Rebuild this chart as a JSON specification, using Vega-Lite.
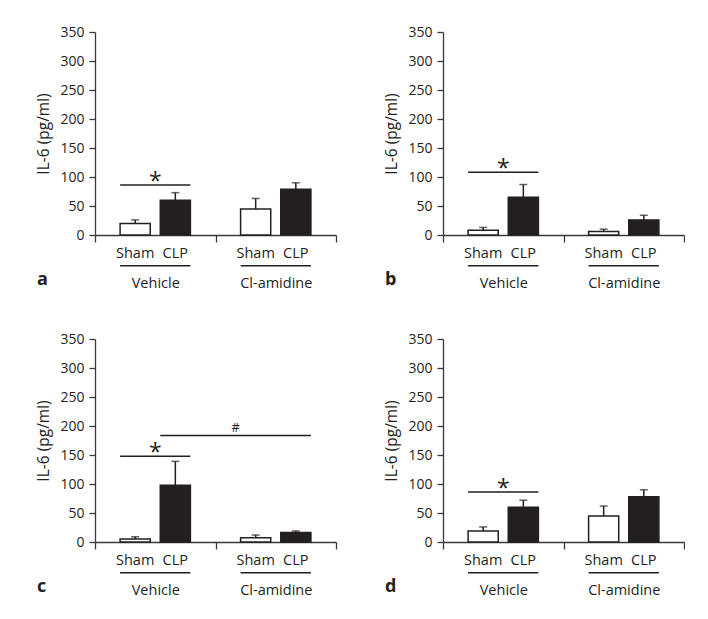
{
  "$schema": "https://vega.github.io/schema/vega-lite/v6.json",
  "background": "white",
  "padding": {"left": 36, "top": 25, "right": 0, "bottom": 0},
  "data": {"values": [
    {"panel": "a", "kind": "bar", "group": "Vehicle", "treatment": "Sham", "mean": 20, "upper": 26},
    {"panel": "a", "kind": "bar", "group": "Vehicle", "treatment": "CLP", "mean": 60, "upper": 73},
    {"panel": "a", "kind": "bar", "group": "Cl-amidine", "treatment": "Sham", "mean": 45, "upper": 63},
    {"panel": "a", "kind": "bar", "group": "Cl-amidine", "treatment": "CLP", "mean": 79, "upper": 90},
    {"panel": "a", "kind": "sig", "g1": "Vehicle", "g2": "Vehicle", "level": 86, "mark": "*"},
    {"panel": "b", "kind": "bar", "group": "Vehicle", "treatment": "Sham", "mean": 8, "upper": 13},
    {"panel": "b", "kind": "bar", "group": "Vehicle", "treatment": "CLP", "mean": 65, "upper": 87},
    {"panel": "b", "kind": "bar", "group": "Cl-amidine", "treatment": "Sham", "mean": 6, "upper": 10},
    {"panel": "b", "kind": "bar", "group": "Cl-amidine", "treatment": "CLP", "mean": 26, "upper": 34},
    {"panel": "b", "kind": "sig", "g1": "Vehicle", "g2": "Vehicle", "level": 108, "mark": "*"},
    {"panel": "c", "kind": "bar", "group": "Vehicle", "treatment": "Sham", "mean": 5, "upper": 9},
    {"panel": "c", "kind": "bar", "group": "Vehicle", "treatment": "CLP", "mean": 98, "upper": 139},
    {"panel": "c", "kind": "bar", "group": "Cl-amidine", "treatment": "Sham", "mean": 7.5, "upper": 12},
    {"panel": "c", "kind": "bar", "group": "Cl-amidine", "treatment": "CLP", "mean": 16.5, "upper": 19},
    {"panel": "c", "kind": "sig", "g1": "Vehicle", "g2": "Vehicle", "level": 148, "mark": "*"},
    {"panel": "c", "kind": "hash", "g1": "Vehicle", "g2": "Cl-amidine", "level": 183.5, "mark": "#"},
    {"panel": "d", "kind": "bar", "group": "Vehicle", "treatment": "Sham", "mean": 19, "upper": 26},
    {"panel": "d", "kind": "bar", "group": "Vehicle", "treatment": "CLP", "mean": 60, "upper": 72},
    {"panel": "d", "kind": "bar", "group": "Cl-amidine", "treatment": "Sham", "mean": 45, "upper": 62},
    {"panel": "d", "kind": "bar", "group": "Cl-amidine", "treatment": "CLP", "mean": 78, "upper": 90},
    {"panel": "d", "kind": "sig", "g1": "Vehicle", "g2": "Vehicle", "level": 86, "mark": "*"}
  ]},
  "vconcat": [
    {"hconcat": [
      {
        "width": 241, "height": 203,
        "title": {"text": "a", "orient": "bottom", "anchor": "start", "frame": "bounds", "baseline": "alphabetic", "offset": -5, "fontSize": 18, "fontWeight": "bold", "color": "#231f20"},
        "transform": [{"filter": "datum.panel === 'a'"}],
        "layer": [
          {"transform": [{"filter": "datum.kind === 'bar'"}], "mark": {"type": "bar", "stroke": "#231f20", "strokeWidth": 1.5},
           "encoding": {
             "x": {"field": "group", "type": "nominal", "sort": ["Vehicle", "Cl-amidine"], "scale": {"domain": ["Vehicle", "Cl-amidine"], "paddingInner": 0, "paddingOuter": 0}},
             "xOffset": {"field": "treatment", "type": "nominal", "sort": ["Sham", "CLP"], "scale": {"domain": ["Sham", "CLP"], "paddingInner": 0.25, "paddingOuter": 0.625}},
             "y": {"field": "mean", "type": "quantitative", "scale": {"domain": [0, 350]}, "axis": {"title": "IL-6 (pg/ml)"}},
             "fill": {"field": "treatment", "type": "nominal", "scale": {"domain": ["Sham", "CLP"], "range": ["#ffffff", "#231f20"]}, "legend": null}
           }},
          {"transform": [{"filter": "datum.kind === 'bar'"}], "mark": {"type": "rule", "color": "#231f20", "strokeWidth": 1.5},
           "encoding": {"x": {"field": "group", "type": "nominal"}, "xOffset": {"field": "treatment", "type": "nominal"}, "y": {"field": "mean", "type": "quantitative"}, "y2": {"field": "upper"}}},
          {"transform": [{"filter": "datum.kind === 'bar'"}], "mark": {"type": "tick", "color": "#231f20", "size": 8, "thickness": 1.5},
           "encoding": {"x": {"field": "group", "type": "nominal"}, "xOffset": {"field": "treatment", "type": "nominal"}, "y": {"field": "upper", "type": "quantitative"}}},
          {"transform": [{"filter": "datum.kind === 'bar'"}], "mark": {"type": "text", "baseline": "alphabetic", "dy": 22.5, "fontSize": 14.5, "color": "#231f20"},
           "encoding": {"x": {"field": "group", "type": "nominal"}, "xOffset": {"field": "treatment", "type": "nominal"}, "y": {"datum": 0, "type": "quantitative"}, "text": {"field": "treatment"}}},
          {"transform": [{"filter": "datum.kind === 'bar' && datum.treatment === 'Sham'"}], "mark": {"type": "rule", "color": "#231f20", "strokeWidth": 1.5, "clip": false},
           "encoding": {"x": {"field": "group", "type": "nominal", "bandPosition": 0.2083}, "x2": {"field": "group", "bandPosition": 0.7917}, "y": {"datum": -53, "type": "quantitative"}}},
          {"transform": [{"filter": "datum.kind === 'sig'"}], "mark": {"type": "rule", "color": "#231f20", "strokeWidth": 1.5},
           "encoding": {"x": {"field": "g1", "type": "nominal", "bandPosition": 0.2083}, "x2": {"field": "g2", "bandPosition": 0.7917}, "y": {"field": "level", "type": "quantitative"}}},
          {"transform": [{"filter": "datum.kind === 'sig'"}], "mark": {"type": "text", "baseline": "alphabetic", "dy": 4, "fontSize": 23, "color": "#231f20"},
           "encoding": {"x": {"field": "g1", "type": "nominal", "bandPosition": 0.5}, "y": {"field": "level", "type": "quantitative"}, "text": {"field": "mark"}}}
        ]
      },
      {
        "width": 241, "height": 203,
        "title": {"text": "b", "orient": "bottom", "anchor": "start", "frame": "bounds", "baseline": "alphabetic", "offset": -5, "fontSize": 18, "fontWeight": "bold", "color": "#231f20"},
        "transform": [{"filter": "datum.panel === 'b'"}],
        "layer": [
          {"transform": [{"filter": "datum.kind === 'bar'"}], "mark": {"type": "bar", "stroke": "#231f20", "strokeWidth": 1.5},
           "encoding": {
             "x": {"field": "group", "type": "nominal", "sort": ["Vehicle", "Cl-amidine"], "scale": {"domain": ["Vehicle", "Cl-amidine"], "paddingInner": 0, "paddingOuter": 0}},
             "xOffset": {"field": "treatment", "type": "nominal", "sort": ["Sham", "CLP"], "scale": {"domain": ["Sham", "CLP"], "paddingInner": 0.25, "paddingOuter": 0.625}},
             "y": {"field": "mean", "type": "quantitative", "scale": {"domain": [0, 350]}, "axis": {"title": "IL-6 (pg/ml)"}},
             "fill": {"field": "treatment", "type": "nominal", "scale": {"domain": ["Sham", "CLP"], "range": ["#ffffff", "#231f20"]}, "legend": null}
           }},
          {"transform": [{"filter": "datum.kind === 'bar'"}], "mark": {"type": "rule", "color": "#231f20", "strokeWidth": 1.5},
           "encoding": {"x": {"field": "group", "type": "nominal"}, "xOffset": {"field": "treatment", "type": "nominal"}, "y": {"field": "mean", "type": "quantitative"}, "y2": {"field": "upper"}}},
          {"transform": [{"filter": "datum.kind === 'bar'"}], "mark": {"type": "tick", "color": "#231f20", "size": 8, "thickness": 1.5},
           "encoding": {"x": {"field": "group", "type": "nominal"}, "xOffset": {"field": "treatment", "type": "nominal"}, "y": {"field": "upper", "type": "quantitative"}}},
          {"transform": [{"filter": "datum.kind === 'bar'"}], "mark": {"type": "text", "baseline": "alphabetic", "dy": 22.5, "fontSize": 14.5, "color": "#231f20"},
           "encoding": {"x": {"field": "group", "type": "nominal"}, "xOffset": {"field": "treatment", "type": "nominal"}, "y": {"datum": 0, "type": "quantitative"}, "text": {"field": "treatment"}}},
          {"transform": [{"filter": "datum.kind === 'bar' && datum.treatment === 'Sham'"}], "mark": {"type": "rule", "color": "#231f20", "strokeWidth": 1.5, "clip": false},
           "encoding": {"x": {"field": "group", "type": "nominal", "bandPosition": 0.2083}, "x2": {"field": "group", "bandPosition": 0.7917}, "y": {"datum": -53, "type": "quantitative"}}},
          {"transform": [{"filter": "datum.kind === 'sig'"}], "mark": {"type": "rule", "color": "#231f20", "strokeWidth": 1.5},
           "encoding": {"x": {"field": "g1", "type": "nominal", "bandPosition": 0.2083}, "x2": {"field": "g2", "bandPosition": 0.7917}, "y": {"field": "level", "type": "quantitative"}}},
          {"transform": [{"filter": "datum.kind === 'sig'"}], "mark": {"type": "text", "baseline": "alphabetic", "dy": 4, "fontSize": 23, "color": "#231f20"},
           "encoding": {"x": {"field": "g1", "type": "nominal", "bandPosition": 0.5}, "y": {"field": "level", "type": "quantitative"}, "text": {"field": "mark"}}}
        ]
      }
    ], "spacing": 47},
    {"hconcat": [
      {
        "width": 241, "height": 203,
        "title": {"text": "c", "orient": "bottom", "anchor": "start", "frame": "bounds", "baseline": "alphabetic", "offset": -5, "fontSize": 18, "fontWeight": "bold", "color": "#231f20"},
        "transform": [{"filter": "datum.panel === 'c'"}],
        "layer": [
          {"transform": [{"filter": "datum.kind === 'bar'"}], "mark": {"type": "bar", "stroke": "#231f20", "strokeWidth": 1.5},
           "encoding": {
             "x": {"field": "group", "type": "nominal", "sort": ["Vehicle", "Cl-amidine"], "scale": {"domain": ["Vehicle", "Cl-amidine"], "paddingInner": 0, "paddingOuter": 0}},
             "xOffset": {"field": "treatment", "type": "nominal", "sort": ["Sham", "CLP"], "scale": {"domain": ["Sham", "CLP"], "paddingInner": 0.25, "paddingOuter": 0.625}},
             "y": {"field": "mean", "type": "quantitative", "scale": {"domain": [0, 350]}, "axis": {"title": "IL-6 (pg/ml)"}},
             "fill": {"field": "treatment", "type": "nominal", "scale": {"domain": ["Sham", "CLP"], "range": ["#ffffff", "#231f20"]}, "legend": null}
           }},
          {"transform": [{"filter": "datum.kind === 'bar'"}], "mark": {"type": "rule", "color": "#231f20", "strokeWidth": 1.5},
           "encoding": {"x": {"field": "group", "type": "nominal"}, "xOffset": {"field": "treatment", "type": "nominal"}, "y": {"field": "mean", "type": "quantitative"}, "y2": {"field": "upper"}}},
          {"transform": [{"filter": "datum.kind === 'bar'"}], "mark": {"type": "tick", "color": "#231f20", "size": 8, "thickness": 1.5},
           "encoding": {"x": {"field": "group", "type": "nominal"}, "xOffset": {"field": "treatment", "type": "nominal"}, "y": {"field": "upper", "type": "quantitative"}}},
          {"transform": [{"filter": "datum.kind === 'bar'"}], "mark": {"type": "text", "baseline": "alphabetic", "dy": 22.5, "fontSize": 14.5, "color": "#231f20"},
           "encoding": {"x": {"field": "group", "type": "nominal"}, "xOffset": {"field": "treatment", "type": "nominal"}, "y": {"datum": 0, "type": "quantitative"}, "text": {"field": "treatment"}}},
          {"transform": [{"filter": "datum.kind === 'bar' && datum.treatment === 'Sham'"}], "mark": {"type": "rule", "color": "#231f20", "strokeWidth": 1.5, "clip": false},
           "encoding": {"x": {"field": "group", "type": "nominal", "bandPosition": 0.2083}, "x2": {"field": "group", "bandPosition": 0.7917}, "y": {"datum": -53, "type": "quantitative"}}},
          {"transform": [{"filter": "datum.kind === 'sig'"}], "mark": {"type": "rule", "color": "#231f20", "strokeWidth": 1.5},
           "encoding": {"x": {"field": "g1", "type": "nominal", "bandPosition": 0.2083}, "x2": {"field": "g2", "bandPosition": 0.7917}, "y": {"field": "level", "type": "quantitative"}}},
          {"transform": [{"filter": "datum.kind === 'sig'"}], "mark": {"type": "text", "baseline": "alphabetic", "dy": 4, "fontSize": 23, "color": "#231f20"},
           "encoding": {"x": {"field": "g1", "type": "nominal", "bandPosition": 0.5}, "y": {"field": "level", "type": "quantitative"}, "text": {"field": "mark"}}},
          {"transform": [{"filter": "datum.kind === 'hash'"}], "mark": {"type": "rule", "color": "#231f20", "strokeWidth": 1.5},
           "encoding": {"x": {"field": "g1", "type": "nominal", "bandPosition": 0.5417}, "x2": {"field": "g2", "bandPosition": 0.7917}, "y": {"field": "level", "type": "quantitative"}}},
          {"transform": [{"filter": "datum.kind === 'hash'"}], "mark": {"type": "text", "baseline": "alphabetic", "dy": -4, "fontSize": 12.5, "color": "#231f20"},
           "encoding": {"x": {"field": "g2", "type": "nominal", "bandPosition": 0.1667}, "y": {"field": "level", "type": "quantitative"}, "text": {"field": "mark"}}}
        ]
      },
      {
        "width": 241, "height": 203,
        "title": {"text": "d", "orient": "bottom", "anchor": "start", "frame": "bounds", "baseline": "alphabetic", "offset": -5, "fontSize": 18, "fontWeight": "bold", "color": "#231f20"},
        "transform": [{"filter": "datum.panel === 'd'"}],
        "layer": [
          {"transform": [{"filter": "datum.kind === 'bar'"}], "mark": {"type": "bar", "stroke": "#231f20", "strokeWidth": 1.5},
           "encoding": {
             "x": {"field": "group", "type": "nominal", "sort": ["Vehicle", "Cl-amidine"], "scale": {"domain": ["Vehicle", "Cl-amidine"], "paddingInner": 0, "paddingOuter": 0}},
             "xOffset": {"field": "treatment", "type": "nominal", "sort": ["Sham", "CLP"], "scale": {"domain": ["Sham", "CLP"], "paddingInner": 0.25, "paddingOuter": 0.625}},
             "y": {"field": "mean", "type": "quantitative", "scale": {"domain": [0, 350]}, "axis": {"title": "IL-6 (pg/ml)"}},
             "fill": {"field": "treatment", "type": "nominal", "scale": {"domain": ["Sham", "CLP"], "range": ["#ffffff", "#231f20"]}, "legend": null}
           }},
          {"transform": [{"filter": "datum.kind === 'bar'"}], "mark": {"type": "rule", "color": "#231f20", "strokeWidth": 1.5},
           "encoding": {"x": {"field": "group", "type": "nominal"}, "xOffset": {"field": "treatment", "type": "nominal"}, "y": {"field": "mean", "type": "quantitative"}, "y2": {"field": "upper"}}},
          {"transform": [{"filter": "datum.kind === 'bar'"}], "mark": {"type": "tick", "color": "#231f20", "size": 8, "thickness": 1.5},
           "encoding": {"x": {"field": "group", "type": "nominal"}, "xOffset": {"field": "treatment", "type": "nominal"}, "y": {"field": "upper", "type": "quantitative"}}},
          {"transform": [{"filter": "datum.kind === 'bar'"}], "mark": {"type": "text", "baseline": "alphabetic", "dy": 22.5, "fontSize": 14.5, "color": "#231f20"},
           "encoding": {"x": {"field": "group", "type": "nominal"}, "xOffset": {"field": "treatment", "type": "nominal"}, "y": {"datum": 0, "type": "quantitative"}, "text": {"field": "treatment"}}},
          {"transform": [{"filter": "datum.kind === 'bar' && datum.treatment === 'Sham'"}], "mark": {"type": "rule", "color": "#231f20", "strokeWidth": 1.5, "clip": false},
           "encoding": {"x": {"field": "group", "type": "nominal", "bandPosition": 0.2083}, "x2": {"field": "group", "bandPosition": 0.7917}, "y": {"datum": -53, "type": "quantitative"}}},
          {"transform": [{"filter": "datum.kind === 'sig'"}], "mark": {"type": "rule", "color": "#231f20", "strokeWidth": 1.5},
           "encoding": {"x": {"field": "g1", "type": "nominal", "bandPosition": 0.2083}, "x2": {"field": "g2", "bandPosition": 0.7917}, "y": {"field": "level", "type": "quantitative"}}},
          {"transform": [{"filter": "datum.kind === 'sig'"}], "mark": {"type": "text", "baseline": "alphabetic", "dy": 4, "fontSize": 23, "color": "#231f20"},
           "encoding": {"x": {"field": "g1", "type": "nominal", "bandPosition": 0.5}, "y": {"field": "level", "type": "quantitative"}, "text": {"field": "mark"}}}
        ]
      }
    ], "spacing": 47}
  ],
  "spacing": 42,
  "config": {
    "font": "Open Sans",
    "view": {"stroke": null},
    "axis": {"grid": false, "domainColor": "#3a3a3a", "tickColor": "#3a3a3a", "labelColor": "#231f20", "titleColor": "#231f20", "domainWidth": 1.3, "tickWidth": 1.3, "labelFontSize": 14, "titleFontSize": 15.5, "titleFontWeight": "normal"},
    "axisX": {"tickBand": "extent", "tickSize": 7, "labelPadding": 45, "labelBaseline": "alphabetic", "labelAngle": 0, "title": null, "labelFontSize": 14.5},
    "axisY": {"tickSize": 6, "labelPadding": 5, "titlePadding": 8, "values": [0, 50, 100, 150, 200, 250, 300, 350]}
  }
}
